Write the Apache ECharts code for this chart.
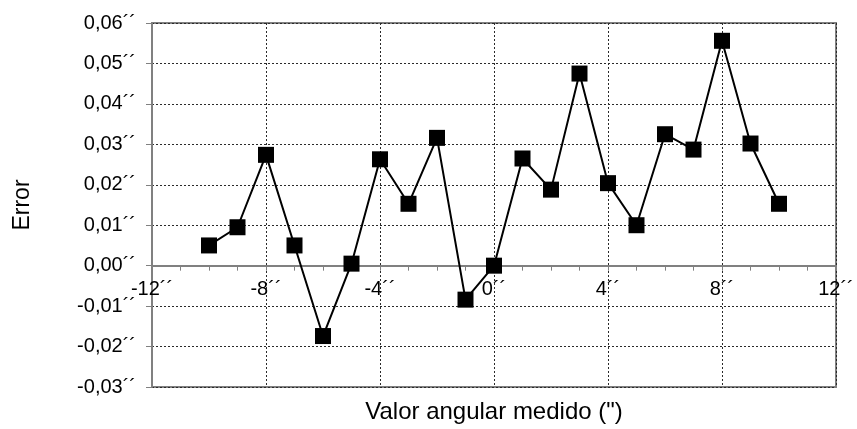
<!DOCTYPE html>
<html><head><meta charset="utf-8">
<script src="https://cdn.jsdelivr.net/npm/echarts@6/dist/echarts.min.js"></script>
<style>html,body{margin:0;padding:0;background:#fff}#c{width:857px;height:429px}</style>
</head><body><div id="c"></div>
<script>
const xValues = [-10,-9,-8,-7,-6,-5,-4,-3,-2,-1,0,1,2,3,4,5,6,7,8,9,10];
const errorValues = [0.0050,0.0095,0.0274,0.0050,-0.0174,0.0005,0.0263,0.0153,0.0316,-0.0084,0.0000,0.0265,0.0188,0.0475,0.0204,0.0100,0.0325,0.0287,0.0556,0.0302,0.0153];
const xRange = [-12, 12];
const yRange = [-0.03, 0.06];
const xTitle = 'Valor angular medido (")';
const yTitle = 'Error';
const suffix = '´´';

const font = '"Liberation Sans", Arial, sans-serif';
const W = 857, H = 429;
const grid = {left:152, right:21, top:23, bottom:42};
const plotH = H - grid.top - grid.bottom;
// the x axis with labels crosses at y = 0
const zeroOffset = -plotH * (0 - yRange[0]) / (yRange[1] - yRange[0]);

const chart = echarts.init(document.getElementById('c'), null, {renderer:'canvas'});
const baseX = {type:'value', min:xRange[0], max:xRange[1], interval:4};
chart.setOption({
  animation:false,
  backgroundColor:'#fff',
  grid:Object.assign({show:true, borderColor:'#808080', borderWidth:2,
        backgroundColor:'transparent', containLabel:false, outerBoundsMode:'none'}, grid),
  xAxis:[
    Object.assign({}, baseX, {
      position:'bottom',
      axisLine:{show:false, onZero:false},
      axisTick:{show:false},
      axisLabel:{show:false},
      splitLine:{show:true, lineStyle:{color:'#2a2a2a', type:[2,2], width:1}},
      name:xTitle, nameLocation:'middle', nameGap:13,
      nameTextStyle:{color:'#000', fontFamily:font, fontSize:24, verticalAlign:'top'}
    }),
    Object.assign({}, baseX, {
      position:'bottom', offset:zeroOffset,
      axisLine:{show:true, onZero:false, lineStyle:{color:'#808080', width:2}},
      axisTick:{show:true, length:5, lineStyle:{color:'#808080', width:1}},
      minorTick:{show:true, splitNumber:4, length:5, lineStyle:{color:'#808080', width:1}},
      splitLine:{show:false},
      axisLabel:{color:'#000', fontFamily:font, fontSize:20, margin:14,
        formatter:v=>String(v)+suffix}
    })
  ],
  yAxis:{
    type:'value', min:yRange[0], max:yRange[1], interval:0.01,
    axisLine:{show:true, onZero:false, lineStyle:{color:'#808080', width:2}},
    axisTick:{show:true, length:6, lineStyle:{color:'#808080', width:1}},
    splitLine:{show:true, lineStyle:{color:'#2a2a2a', type:[2,2], width:1}},
    axisLabel:{color:'#000', fontFamily:font, fontSize:20, margin:16,
      formatter:v=>(Math.round(v*100)/100).toFixed(2).replace('.',',')+suffix},
    name:yTitle, nameLocation:'middle', nameGap:118, nameRotate:90,
    nameTextStyle:{color:'#000', fontFamily:font, fontSize:23}
  },
  series:[{
    type:'line', xAxisIndex:0,
    data:xValues.map((x,i)=>[x,errorValues[i]]),
    symbol:'rect', symbolSize:16,
    itemStyle:{color:'#000', borderColor:'#000', borderWidth:0},
    lineStyle:{color:'#000', width:2},
    z:5
  }]
});
</script></body></html>
